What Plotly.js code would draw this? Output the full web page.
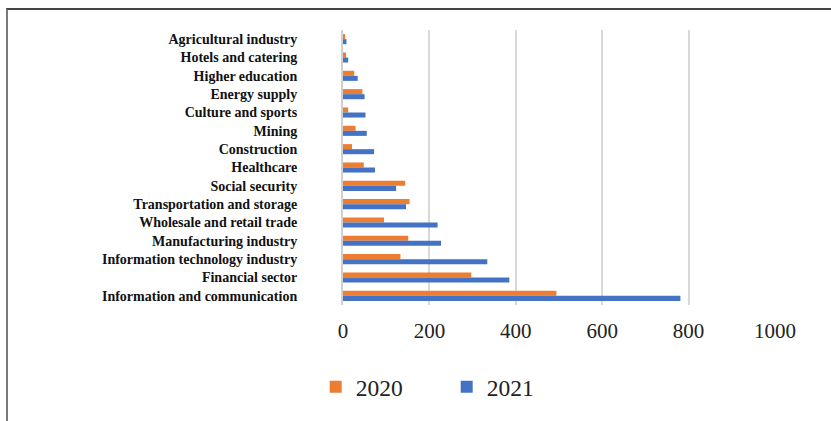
<!DOCTYPE html>
<html>
<head>
<meta charset="utf-8">
<script src="https://cdn.plot.ly/plotly-3.0.1.min.js"></script>
<style>
  html, body { margin: 0; padding: 0; background: #fff; }
  #wrap { position: relative; width: 831px; height: 421px; overflow: hidden; }
  #frame { position: absolute; left: 6px; top: 8px; right: -10px; bottom: -10px;
           border-top: 2px solid #444; border-left: 2px solid #7a7a7a; pointer-events: none; }
  #chart { position: absolute; left: 0; top: 0; width: 831px; height: 421px; }
</style>
</head>
<body>
<div id="wrap">
  <div id="chart"></div>
  <div id="frame"></div>
</div>
<script>
const categories = [
  "Agricultural industry",
  "Hotels and catering",
  "Higher education",
  "Energy supply",
  "Culture and sports",
  "Mining",
  "Construction",
  "Healthcare",
  "Social security",
  "Transportation and storage",
  "Wholesale and retail trade",
  "Manufacturing industry",
  "Information technology industry",
  "Financial sector",
  "Information and communication"
];
const values2020 = [5, 7, 26, 45, 12, 29, 21, 48, 144, 154, 95, 151, 133, 297, 494];
const values2021 = [8, 12, 34, 50, 52, 55, 72, 74, 123, 146, 219, 227, 334, 385, 781];
const xTicks = [0, 200, 400, 600, 800, 1000];

const SERIF = "'Liberation Serif', 'Times New Roman', serif";

const traces = [
  { type: "bar", orientation: "h", name: "2020", y: categories, x: values2020,
    marker: { color: "#ED7D31" } },
  { type: "bar", orientation: "h", name: "2021", y: categories, x: values2021,
    marker: { color: "#4472C4" } }
];

const layout = {
  width: 831, height: 421,
  margin: { l: 343, r: 56, t: 30, b: 113, pad: 0 },
  paper_bgcolor: "#ffffff", plot_bgcolor: "#ffffff",
  barmode: "group", bargap: 0.45, bargroupgap: 0,
  showlegend: true,
  legend: { orientation: "h", x: 0.24, xanchor: "center", y: -0.218, yanchor: "top",
            font: { family: SERIF, size: 23.5, color: "#222" },
            itemwidth: 30, traceorder: "normal", entrywidth: 86 },
  xaxis: {
    range: [0, 1000], tickvals: xTicks, ticktext: xTicks.map(String),
    showgrid: true, gridcolor: "#d9d9d9", gridwidth: 2,
    zeroline: false, showline: false, ticks: "",
    tickfont: { family: SERIF, size: 21, color: "#222" },
    ticklabelstandoff: 11, fixedrange: true
  },
  yaxis: {
    type: "category", autorange: "reversed",
    showgrid: false, zeroline: false, showline: true, linecolor: "#d0d0d0", linewidth: 2,
    ticks: "", ticklabelstandoff: 41,
    tickfont: { family: SERIF, size: 14, color: "#111", weight: "bold" },
    fixedrange: true
  }
};

Plotly.newPlot("chart", traces, layout, { displayModeBar: false, staticPlot: true });
</script>
</body>
</html>
